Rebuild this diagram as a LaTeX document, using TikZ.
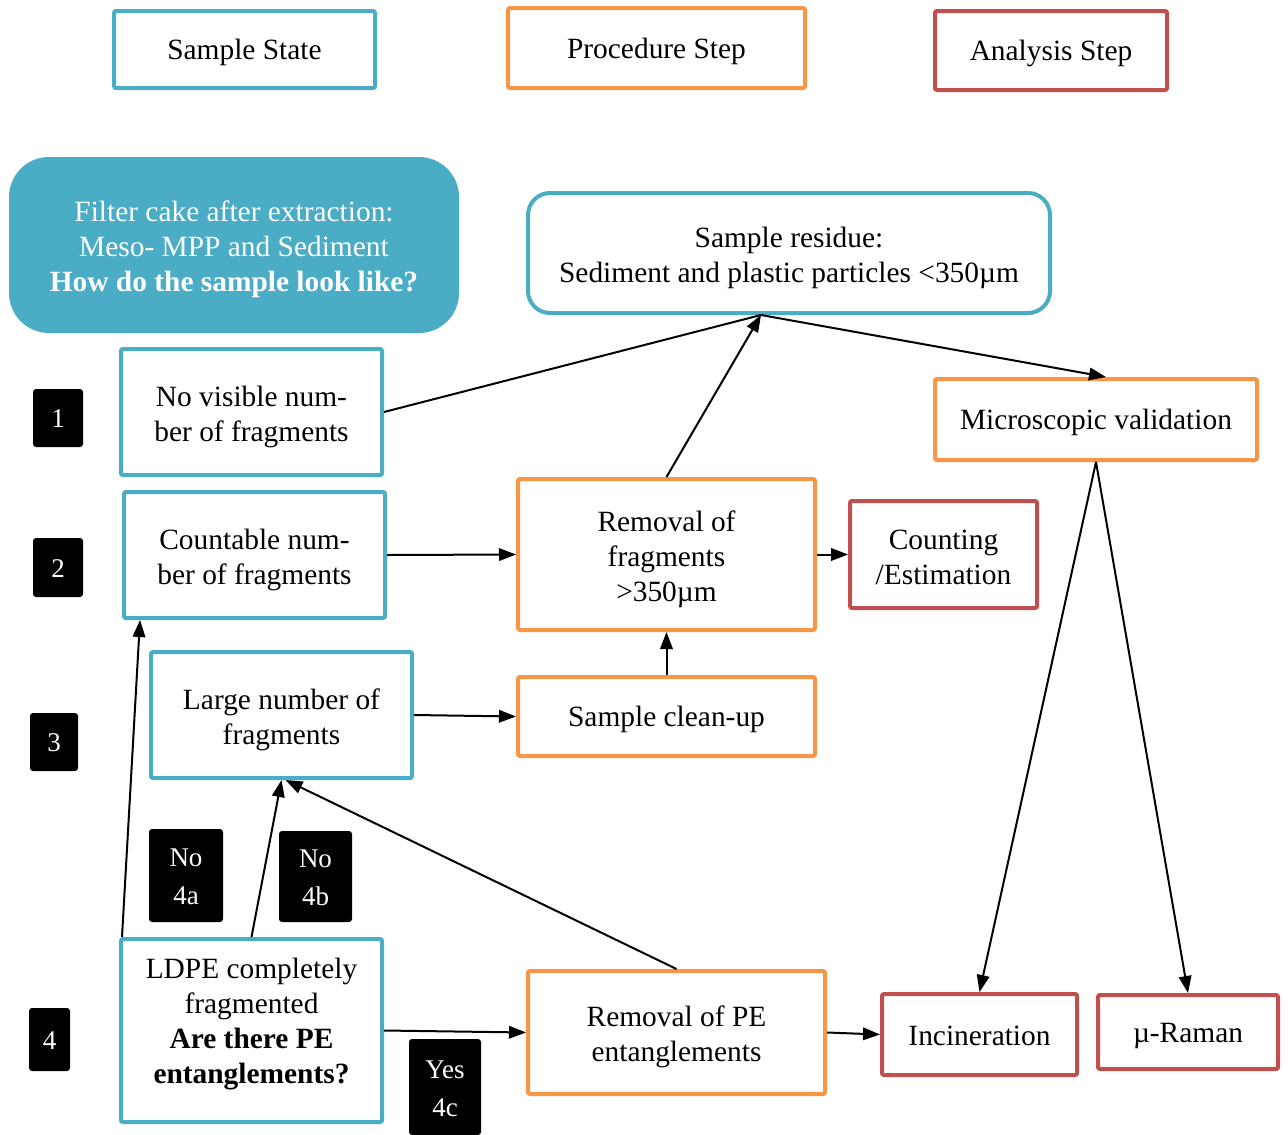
\documentclass[tikz,border=0pt]{standalone}
\usepackage{fontspec}
\setmainfont{Liberation Serif}
\usetikzlibrary{arrows.meta,calc}
\definecolor{sblue}{HTML}{4BACC6}
\definecolor{porange}{HTML}{F79646}
\definecolor{ared}{HTML}{C0504D}
\newcommand\myfl{\rule{0pt}{30pt}}
\newcommand\mylf{\rule{0pt}{26pt}}
\begin{document}
\begin{tikzpicture}[x=1pt,y=-1pt,
  base/.style={line width=4pt, align=center, inner sep=0pt, rounded corners=2pt,
    font=\fontsize{29.4}{35}\selectfont, text=black,
    execute at begin node={\rule{0pt}{27pt}}, execute at end node={\rule[-6pt]{0pt}{0pt}}},
  sstate/.style={base, draw=sblue},
  proc/.style={base, draw=porange},
  anal/.style={base, draw=ared},
  lab/.style={fill=black, text=white, rounded corners=3pt, inner sep=0pt, align=center,
    font=\fontsize{27}{38}\selectfont,
    execute at begin node={\rule{0pt}{25pt}}, execute at end node={\rule[-5.5pt]{0pt}{0pt}}},
  ln/.style={line width=2pt},
  arr/.style={line width=2pt, -{Triangle[length=17pt,width=12.5pt]}}]
\useasboundingbox (0,0) rectangle (1288,1135);

% legend
\node[sstate, minimum width=261pt, minimum height=77pt] (leg1) at (244.5,49.5) {Sample State};
\node[proc, minimum width=297pt, minimum height=80pt] (leg2) at (656.5,48) {Procedure Step};
\node[anal, minimum width=232pt, minimum height=79pt] (leg3) at (1051,50.5) {Analysis Step};

% header
\node[base, fill=sblue, text=white, rounded corners=40pt, line width=0pt,
  minimum width=450pt, minimum height=176pt] (filter) at (234,245)
  {\myfl Filter cake after extraction:\\Meso- MPP and Sediment\\\textbf{How do the sample look like?}};

\node[sstate, rounded corners=22pt, minimum width=522pt, minimum height=120pt] (residue) at (789,253)
  {\myfl Sample residue:\\Sediment and plastic particles <350µm};
\node[proc, minimum width=322pt, minimum height=81pt] (micro) at (1096,419.5) {Microscopic validation};

\node[sstate, minimum width=261pt, minimum height=126pt] (novis) at (251.5,412) {\myfl No visible num-\\ber of fragments};
\node[sstate, minimum width=261pt, minimum height=126pt] (count) at (254.5,555) {\myfl Countable num-\\ber of fragments};
\node[proc, minimum width=297pt, minimum height=151pt] (remfrag) at (666.5,554.5) {\myfl Removal of\\fragments\\>350µm};
\node[anal, minimum width=187pt, minimum height=107pt] (counting) at (943.5,554.5) {\myfl Counting\\/Estimation};
\node[sstate, minimum width=261pt, minimum height=126pt] (large) at (281.5,715) {\myfl Large number of\\fragments};
\node[proc, minimum width=297pt, minimum height=79pt] (cleanup) at (666.5,716.5) {Sample clean-up};
\node[sstate, minimum width=261pt, minimum height=183pt, execute at begin node={}, execute at end node={},
  label={[align=center, font=\fontsize{29.4}{35}\selectfont, yshift=6pt]center:{LDPE completely\\fragmented\\\textbf{Are there PE}\\\textbf{entanglements?}}}] (ldpe) at (251.5,1030.5) {};
\node[proc, minimum width=297pt, minimum height=123pt] (rempe) at (676.5,1032.5) {\myfl Removal of PE\\entanglements};
\node[anal, minimum width=195pt, minimum height=81pt] (incin) at (979.5,1034.5) {Incineration};
\node[anal, minimum width=180pt, minimum height=74pt] (raman) at (1188,1032) {µ-Raman};

% black labels
\node[lab, minimum width=50pt, minimum height=58pt] (l1) at (58,418) {1};
\node[lab, minimum width=50pt, minimum height=59pt] (l2) at (58,567.5) {2};
\node[lab, minimum width=48pt, minimum height=58pt] (l3) at (54,742) {3};
\node[lab, minimum width=41pt, minimum height=63pt] (l4) at (49.5,1039.5) {4};
\node[lab, minimum width=74pt, minimum height=93pt] (l4a) at (186,875.5) {\mylf No\\4a};
\node[lab, minimum width=73pt, minimum height=91pt] (l4b) at (315.5,876.5) {\mylf No\\4b};
\node[lab, minimum width=72pt, minimum height=96pt] (l4c) at (445,1087) {\mylf Yes\\4c};

% connectors
\coordinate (rtip) at ($(residue.south)+(-28,0)$);
\coordinate (mtop) at ($(micro.north)+(10,0)$);
\coordinate (ctip) at ($(count.south west)+(18,0)$);
\coordinate (lfoot) at ($(ldpe.north west)+(3,0)$);
\coordinate (ltip) at ($(large.south)+(4,0)$);
\draw[ln] (novis.east) -- (rtip);
\draw[arr] (remfrag.north) -- (rtip);
\draw[arr] (rtip) -- (mtop);
\draw[arr] (count.east) -- (remfrag.west);
\draw[arr] (remfrag.east) -- (counting.west);
\draw[arr] (cleanup.north) -- (remfrag.south);
\draw[arr] (large.east) -- (cleanup.west);
\draw[arr] (lfoot) -- (ctip);
\draw[arr] (ldpe.north) -- (large.south);
\draw[arr] (rempe.north) -- (ltip);
\draw[arr] (ldpe.east) -- (rempe.west);
\draw[arr] (rempe.east) -- (incin.west);
\draw[arr] (micro.south) -- (incin.north);
\draw[arr] (micro.south) -- (raman.north);
\end{tikzpicture}
\end{document}
